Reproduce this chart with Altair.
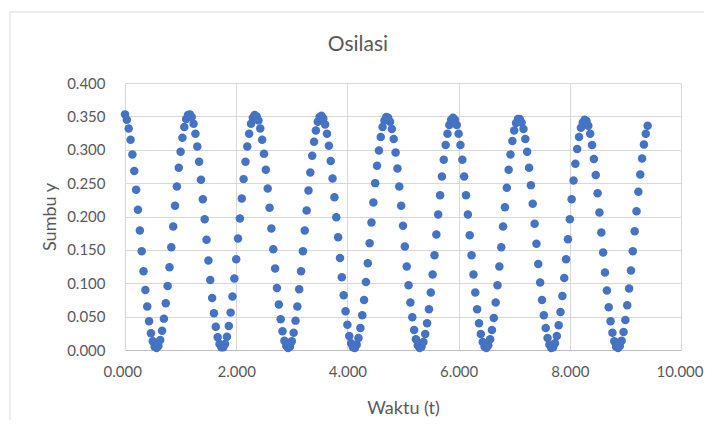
import altair as alt
import pandas as pd

chart_title = "Osilasi"
x_title = "Waktu (t)"
y_title = "Sumbu y"

x_ticks = [0, 2, 4, 6, 8, 10]
y_ticks = [0.0, 0.05, 0.1, 0.15, 0.2, 0.25, 0.3, 0.35, 0.4]

waktu = [
    0.000, 0.033, 0.067, 0.100, 0.133, 0.167, 0.200, 0.233, 0.267, 0.300,
    0.333, 0.367, 0.400, 0.433, 0.467, 0.500, 0.533, 0.567, 0.600, 0.633,
    0.667, 0.700, 0.733, 0.767, 0.800, 0.833, 0.867, 0.900, 0.933, 0.967,
    1.000, 1.033, 1.067, 1.100, 1.133, 1.167, 1.200, 1.233, 1.267, 1.300,
    1.333, 1.367, 1.400, 1.433, 1.467, 1.500, 1.533, 1.567, 1.600, 1.633,
    1.667, 1.700, 1.733, 1.767, 1.800, 1.833, 1.867, 1.900, 1.933, 1.967,
    2.000, 2.033, 2.067, 2.100, 2.133, 2.167, 2.200, 2.233, 2.267, 2.300,
    2.333, 2.367, 2.400, 2.433, 2.467, 2.500, 2.533, 2.567, 2.600, 2.633,
    2.667, 2.700, 2.733, 2.767, 2.800, 2.833, 2.867, 2.900, 2.933, 2.967,
    3.000, 3.033, 3.067, 3.100, 3.133, 3.167, 3.200, 3.233, 3.267, 3.300,
    3.333, 3.367, 3.400, 3.433, 3.467, 3.500, 3.533, 3.567, 3.600, 3.633,
    3.667, 3.700, 3.733, 3.767, 3.800, 3.833, 3.867, 3.900, 3.933, 3.967,
    4.000, 4.033, 4.067, 4.100, 4.133, 4.167, 4.200, 4.233, 4.267, 4.300,
    4.333, 4.367, 4.400, 4.433, 4.467, 4.500, 4.533, 4.567, 4.600, 4.633,
    4.667, 4.700, 4.733, 4.767, 4.800, 4.833, 4.867, 4.900, 4.933, 4.967,
    5.000, 5.033, 5.067, 5.100, 5.133, 5.167, 5.200, 5.233, 5.267, 5.300,
    5.333, 5.367, 5.400, 5.433, 5.467, 5.500, 5.533, 5.567, 5.600, 5.633,
    5.667, 5.700, 5.733, 5.767, 5.800, 5.833, 5.867, 5.900, 5.933, 5.967,
    6.000, 6.033, 6.067, 6.100, 6.133, 6.167, 6.200, 6.233, 6.267, 6.300,
    6.333, 6.367, 6.400, 6.433, 6.467, 6.500, 6.533, 6.567, 6.600, 6.633,
    6.667, 6.700, 6.733, 6.767, 6.800, 6.833, 6.867, 6.900, 6.933, 6.967,
    7.000, 7.033, 7.067, 7.100, 7.133, 7.167, 7.200, 7.233, 7.267, 7.300,
    7.333, 7.367, 7.400, 7.433, 7.467, 7.500, 7.533, 7.567, 7.600, 7.633,
    7.667, 7.700, 7.733, 7.767, 7.800, 7.833, 7.867, 7.900, 7.933, 7.967,
    8.000, 8.033, 8.067, 8.100, 8.133, 8.167, 8.200, 8.233, 8.267, 8.300,
    8.333, 8.367, 8.400, 8.433, 8.467, 8.500, 8.533, 8.567, 8.600, 8.633,
    8.667, 8.700, 8.733, 8.767, 8.800, 8.833, 8.867, 8.900, 8.933, 8.967,
    9.000, 9.033, 9.067, 9.100, 9.133, 9.167, 9.200, 9.233, 9.267, 9.300,
    9.333, 9.367, 9.400,
]

sumbu_y = [
    0.353, 0.345, 0.332, 0.315, 0.293, 0.268, 0.240, 0.210, 0.179, 0.148,
    0.118, 0.090, 0.065, 0.043, 0.025, 0.013, 0.005, 0.003, 0.006, 0.015,
    0.029, 0.047, 0.070, 0.096, 0.124, 0.154, 0.185, 0.216, 0.245, 0.273,
    0.297, 0.318, 0.334, 0.346, 0.352, 0.353, 0.349, 0.339, 0.324, 0.305,
    0.282, 0.255, 0.226, 0.196, 0.165, 0.134, 0.105, 0.078, 0.055, 0.035,
    0.019, 0.009, 0.004, 0.004, 0.009, 0.020, 0.036, 0.056, 0.080, 0.107,
    0.136, 0.167, 0.197, 0.227, 0.256, 0.282, 0.305, 0.324, 0.339, 0.348,
    0.352, 0.350, 0.344, 0.332, 0.315, 0.294, 0.270, 0.242, 0.213, 0.182,
    0.151, 0.122, 0.093, 0.068, 0.046, 0.028, 0.014, 0.006, 0.003, 0.005,
    0.013, 0.026, 0.044, 0.065, 0.091, 0.118, 0.148, 0.179, 0.209, 0.239,
    0.266, 0.291, 0.312, 0.329, 0.342, 0.349, 0.351, 0.347, 0.338, 0.324,
    0.306, 0.283, 0.257, 0.229, 0.199, 0.169, 0.138, 0.109, 0.082, 0.058,
    0.038, 0.021, 0.010, 0.004, 0.003, 0.008, 0.018, 0.033, 0.052, 0.075,
    0.102, 0.130, 0.160, 0.191, 0.221, 0.250, 0.276, 0.299, 0.319, 0.334,
    0.344, 0.349, 0.348, 0.342, 0.331, 0.316, 0.296, 0.272, 0.245, 0.216,
    0.186, 0.155, 0.125, 0.097, 0.071, 0.049, 0.030, 0.016, 0.007, 0.003,
    0.005, 0.012, 0.024, 0.040, 0.061, 0.086, 0.113, 0.142, 0.173, 0.203,
    0.232, 0.260, 0.285, 0.307, 0.324, 0.337, 0.345, 0.348, 0.345, 0.337,
    0.324, 0.307, 0.285, 0.260, 0.232, 0.203, 0.172, 0.142, 0.113, 0.086,
    0.061, 0.040, 0.024, 0.012, 0.005, 0.003, 0.007, 0.016, 0.030, 0.048,
    0.071, 0.097, 0.125, 0.154, 0.185, 0.214, 0.243, 0.270, 0.293, 0.313,
    0.329, 0.340, 0.346, 0.346, 0.341, 0.331, 0.316, 0.297, 0.273, 0.247,
    0.219, 0.189, 0.159, 0.129, 0.101, 0.075, 0.052, 0.033, 0.018, 0.008,
    0.003, 0.004, 0.010, 0.021, 0.037, 0.057, 0.081, 0.108, 0.136, 0.166,
    0.196, 0.226, 0.254, 0.279, 0.301, 0.319, 0.333, 0.341, 0.345, 0.343,
    0.336, 0.324, 0.307, 0.286, 0.262, 0.235, 0.206, 0.176, 0.146, 0.116,
    0.089, 0.064, 0.043, 0.026, 0.013, 0.005, 0.003, 0.006, 0.014, 0.027,
    0.045, 0.067, 0.092, 0.119, 0.148, 0.178, 0.208, 0.237, 0.263, 0.287,
    0.308, 0.324, 0.336,
]

df = pd.DataFrame({"t": waktu, "y": sumbu_y})

FONT = "Lato"
TEXT = "#595959"
GRID = "#d9d9d9"

points = alt.Chart(df).mark_circle(size=72, color="#4472C4", opacity=1).encode(
    x=alt.X(
        "t:Q",
        scale=alt.Scale(domain=[0, 10], nice=False, zero=False),
        axis=alt.Axis(
            values=x_ticks, format=".3f", title=x_title, grid=True,
            ticks=False, domainColor="#bfbfbf", labelPadding=14,
            labelFlush=True, labelFlushOffset=22, labelOverlap=False,
            titleX=278, titleY=58, titleBaseline="middle",
        ),
    ),
    y=alt.Y(
        "y:Q",
        scale=alt.Scale(domain=[0, 0.4], nice=False),
        axis=alt.Axis(
            values=y_ticks, format=".3f", title=y_title, grid=True,
            ticks=False, domain=False, labelPadding=20,
            labelFlush=False, labelOverlap=False,
            titleX=-75, titleY=133.5, titleBaseline="middle",
        ),
    ),
)

border = alt.Chart(pd.DataFrame({"a": [0]})).mark_rect(
    fill="transparent", stroke=GRID, strokeWidth=1
).encode(
    x=alt.value(-115), x2=alt.value(620), y=alt.value(-71), y2=alt.value(380)
)

title_mark = alt.Chart(pd.DataFrame({"label": [chart_title]})).mark_text(
    font=FONT, fontSize=21, color=TEXT, align="center", baseline="middle"
).encode(
    text="label:N", x=alt.value(233), y=alt.value(-38)
)

chart = (
    alt.layer(border, points, title_mark)
    .properties(
        width=556,
        height=267,
        padding={"left": 117, "top": 75, "right": 23, "bottom": 70},
        autosize=alt.AutoSizeParams(type="none"),
    )
    .configure_axis(
        labelFont=FONT, labelFontSize=15, labelColor=TEXT,
        titleFont=FONT, titleFontSize=18, titleColor=TEXT,
        titleFontWeight="normal", gridColor=GRID, gridWidth=1,
    )
    .configure_view(stroke="transparent")
)

chart.save("out.html", embed_options={"renderer": "svg", "actions": False})
